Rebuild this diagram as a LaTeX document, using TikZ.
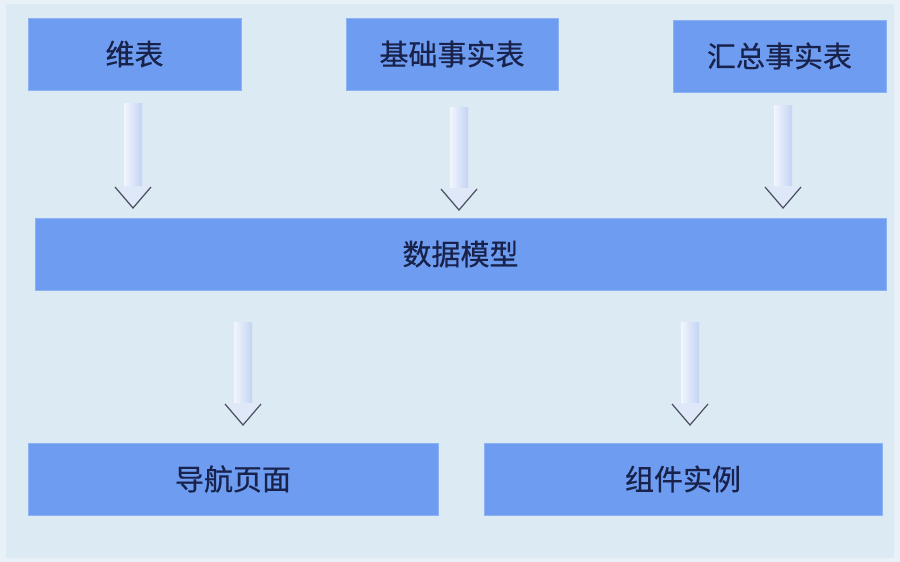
\documentclass[tikz,border=0pt]{standalone}
\usepackage{fontspec}
\newfontfamily\cjk[FakeBold=0.6]{Noto Sans CJK SC}
\definecolor{bg}{HTML}{DCEAF3}
\definecolor{bgedge}{HTML}{E8F1F7}
\definecolor{boxfill}{HTML}{6E9CF0}
\definecolor{boxline}{HTML}{8DB2F2}
\definecolor{txt}{HTML}{18224A}
\definecolor{shaftA}{HTML}{F2F6FD}
\definecolor{shaftB}{HTML}{C3D3F3}
\definecolor{chev}{HTML}{4A4F5C}
\tikzset{
  boxnode/.style={draw=boxline, line width=0.8pt, fill=boxfill, minimum height=72pt, inner sep=0pt,
    font=\cjk\fontsize{29}{29}\selectfont, text=txt},
}
\newcommand{\downarrowshape}[3]{% x, ytop, ytip
  \pgfmathsetmacro{\hy}{#3-22}
  \shade[left color=shaftA, right color=shaftB] (#1-9,#2) rectangle (#1+9,\hy);
  \fill[shaftA!60!shaftB] (#1-18,\hy) -- (#1+18,\hy) -- (#1,#3) -- cycle;
  \draw[chev, line width=1.2pt, line join=miter] (#1-18,\hy+1) -- (#1,#3) -- (#1+18,\hy+1);
}
\begin{document}
\begin{tikzpicture}[x=1pt,y=-1pt]
\useasboundingbox (0,0) rectangle (900,562);
\fill[bgedge] (0,0) rectangle (900,562);
\fill[bg] (6,4) rectangle (894,558);
% boxes
\node[boxnode, minimum width=213pt] (dim) at (134.5,54) {维表};
\node[boxnode, minimum width=212pt] (base) at (452,54) {基础事实表};
\node[boxnode, minimum width=213pt] (sum) at (779.5,56) {汇总事实表};
\node[boxnode, minimum width=851pt] (model) at (460.5,254) {数据模型};
\node[boxnode, minimum width=410pt] (nav) at (233,479) {导航页面};
\node[boxnode, minimum width=398pt] (comp) at (683,479) {组件实例};
% arrows
\downarrowshape{133}{103}{208}
\downarrowshape{459}{107}{210}
\downarrowshape{783}{105}{208}
\downarrowshape{243}{322}{425}
\downarrowshape{690}{322}{425}
\end{tikzpicture}
\end{document}
